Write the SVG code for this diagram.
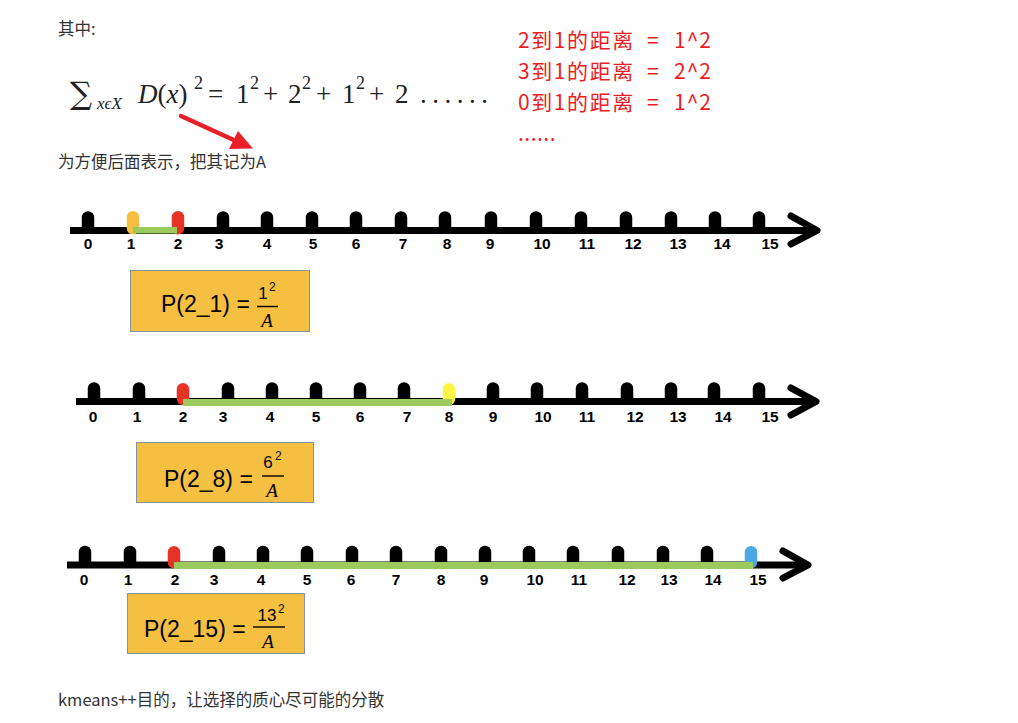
<svg xmlns="http://www.w3.org/2000/svg" width="1018" height="723" viewBox="0 0 1018 723">
<style>
.body{font-family:"Noto Sans CJK SC","Liberation Sans",sans-serif;font-size:16.5px;fill:#333}
.red{font-family:"Noto Sans CJK SC","Liberation Sans",sans-serif;font-size:21px;fill:#ED1C24}
.math{font-family:"Liberation Serif","DejaVu Serif",serif;font-size:27px;fill:#222}
.it{font-style:italic}
.axis{stroke:#000;stroke-width:7;fill:none}
.chev{stroke:#000;stroke-width:7;fill:none;stroke-linecap:round;stroke-linejoin:round}
.num{font-family:"Liberation Sans",sans-serif;font-weight:bold;font-size:15.5px;fill:#000;text-anchor:middle}
.green{fill:#9BCB5E}
.box{fill:#F5BF41;stroke:#8491A3;stroke-width:1}
.pt{font-family:"Liberation Sans",sans-serif;font-size:23px;fill:#000}
.fr{font-family:"Liberation Sans",sans-serif;font-size:17px;fill:#000;text-anchor:middle}
.sup{font-family:"Liberation Sans",sans-serif;font-size:12px;fill:#000}
.A{font-family:"Liberation Serif",serif;font-style:italic;font-size:19px;fill:#000;text-anchor:middle}
.fl{stroke:#000;stroke-width:1.4}
</style>
<defs>
<path id="bump" d="M-6.25,1 V-13 A6.25,6.25 0 0 1 6.25,-13 V1 Z" fill="#000"/>
</defs>

<g id="text-top">
<text class="body" x="58" y="35">其中:</text>
<text class="math" y="103"><tspan x="70" y="104" font-family="DejaVu Serif" font-size="31">∑</tspan><tspan x="97" y="109" font-size="17" class="it">xϵX</tspan><tspan x="138" y="103" class="it">D</tspan><tspan>(</tspan><tspan class="it">x</tspan><tspan>)</tspan><tspan x="194" y="89" font-size="18">2</tspan><tspan x="208" y="103">=</tspan><tspan x="236">1</tspan><tspan x="250" y="89" font-size="18">2</tspan><tspan x="263" y="103">+</tspan><tspan x="288">2</tspan><tspan x="302" y="89" font-size="18">2</tspan><tspan x="316" y="103">+</tspan><tspan x="342">1</tspan><tspan x="356" y="89" font-size="18">2</tspan><tspan x="369" y="103">+</tspan><tspan x="395">2</tspan><tspan x="420" letter-spacing="5.5">......</tspan></text>
<text class="body" x="58" y="168">为方便后面表示，把其记为A</text>
</g>

<g id="red-notes">
<text class="red" y="48"><tspan x="518" letter-spacing="1.6">2到1的距离</tspan><tspan x="647">=</tspan><tspan x="674" letter-spacing="1">1^2</tspan></text>
<text class="red" y="79"><tspan x="518" letter-spacing="1.6">3到1的距离</tspan><tspan x="647">=</tspan><tspan x="674" letter-spacing="1">2^2</tspan></text>
<text class="red" y="110"><tspan x="518" letter-spacing="1.6">0到1的距离</tspan><tspan x="647">=</tspan><tspan x="674" letter-spacing="1">1^2</tspan></text>
<text class="red" x="518" y="141" font-size="18" letter-spacing="0.5">......</text>
</g>

<g id="connectors">
<line x1="181" y1="116" x2="236" y2="141" stroke="#E8202A" stroke-width="4.5" stroke-linecap="round"/>
<polygon points="253,148.5 229,149 238,131" fill="#E8202A"/>
</g>

<g id="numberline-1">
<line class="axis" x1="70" y1="230.5" x2="815" y2="230.5"/>
<polyline class="chev" points="791,216 817,230.5 791,244"/>
<use href="#bump" x="88" y="230.5"/><use href="#bump" x="223" y="230.5"/><use href="#bump" x="267" y="230.5"/><use href="#bump" x="312" y="230.5"/><use href="#bump" x="356" y="230.5"/><use href="#bump" x="401" y="230.5"/><use href="#bump" x="445" y="230.5"/><use href="#bump" x="491" y="230.5"/><use href="#bump" x="536" y="230.5"/><use href="#bump" x="581" y="230.5"/><use href="#bump" x="626" y="230.5"/><use href="#bump" x="671" y="230.5"/><use href="#bump" x="715" y="230.5"/><use href="#bump" x="759" y="230.5"/>
<rect x="126.75" y="211" width="12.5" height="23.5" rx="6.25" fill="#F6BE41"/>
<rect x="171.75" y="211" width="12.5" height="23.5" rx="6.25" fill="#E53325"/>
<rect class="green" x="133" y="227" width="44" height="6.5"/>
<g class="num">
<text x="88" y="249">0</text><text x="131" y="249">1</text><text x="178" y="249">2</text><text x="219" y="249">3</text><text x="267" y="249">4</text><text x="313" y="249">5</text><text x="356" y="249">6</text><text x="403" y="249">7</text><text x="447" y="249">8</text><text x="490" y="249">9</text><text x="542" y="249">10</text><text x="587" y="249">11</text><text x="633" y="249">12</text><text x="678" y="249">13</text><text x="722" y="249">14</text><text x="770" y="249">15</text>
</g>
</g>

<g id="box-1">
<rect class="box" x="130.5" y="270.5" width="179" height="61"/>
<text class="pt" x="161" y="312">P(2_1) =</text>
<text class="fr" x="263" y="299">1</text><text class="sup" x="269" y="291">2</text>
<line class="fl" x1="257" y1="306.5" x2="278" y2="306.5"/>
<text class="A" x="267" y="327">A</text>
</g>

<g id="numberline-2">
<line class="axis" x1="76" y1="401.5" x2="813" y2="401.5"/>
<polyline class="chev" points="791,388 816,401.5 791,415"/>
<use href="#bump" x="94" y="401.5"/><use href="#bump" x="139" y="401.5"/><use href="#bump" x="228" y="401.5"/><use href="#bump" x="272" y="401.5"/><use href="#bump" x="316" y="401.5"/><use href="#bump" x="360" y="401.5"/><use href="#bump" x="404" y="401.5"/><use href="#bump" x="493" y="401.5"/><use href="#bump" x="537" y="401.5"/><use href="#bump" x="582" y="401.5"/><use href="#bump" x="627" y="401.5"/><use href="#bump" x="671" y="401.5"/><use href="#bump" x="714" y="401.5"/><use href="#bump" x="759" y="401.5"/>
<rect x="176.75" y="383" width="12.5" height="22" rx="6.25" fill="#E53325"/>
<rect x="442.75" y="383" width="12.5" height="22" rx="6.25" fill="#FFF544"/>
<rect class="green" x="183" y="399" width="269" height="7"/>
<g class="num">
<text x="93" y="422">0</text><text x="137" y="422">1</text><text x="183" y="422">2</text><text x="223" y="422">3</text><text x="270" y="422">4</text><text x="316" y="422">5</text><text x="360" y="422">6</text><text x="407" y="422">7</text><text x="449" y="422">8</text><text x="493" y="422">9</text><text x="543" y="422">10</text><text x="587" y="422">11</text><text x="635" y="422">12</text><text x="678" y="422">13</text><text x="723" y="422">14</text><text x="770" y="422">15</text>
</g>
</g>

<g id="box-2">
<rect class="box" x="136.5" y="442.5" width="177" height="60"/>
<text class="pt" x="164" y="487">P(2_8) =</text>
<text class="fr" x="268" y="468">6</text><text class="sup" x="275" y="460">2</text>
<line class="fl" x1="262" y1="476" x2="284" y2="476"/>
<text class="A" x="272" y="497">A</text>
</g>

<g id="numberline-3">
<line class="axis" x1="67" y1="565" x2="805" y2="565"/>
<polyline class="chev" points="783,551 808,565 783,578"/>
<use href="#bump" x="85" y="565"/><use href="#bump" x="130" y="565"/><use href="#bump" x="219" y="565"/><use href="#bump" x="263" y="565"/><use href="#bump" x="307" y="565"/><use href="#bump" x="352" y="565"/><use href="#bump" x="396" y="565"/><use href="#bump" x="441" y="565"/><use href="#bump" x="485" y="565"/><use href="#bump" x="529" y="565"/><use href="#bump" x="573" y="565"/><use href="#bump" x="618" y="565"/><use href="#bump" x="663" y="565"/><use href="#bump" x="707" y="565"/>
<rect x="167.75" y="546" width="12.5" height="22.5" rx="6.25" fill="#E53325"/>
<rect x="744.75" y="546" width="12.5" height="22.5" rx="6.25" fill="#4AA9E3"/>
<rect class="green" x="174" y="562" width="579" height="7"/>
<g class="num">
<text x="84" y="585">0</text><text x="128" y="585">1</text><text x="175" y="585">2</text><text x="214" y="585">3</text><text x="261" y="585">4</text><text x="307" y="585">5</text><text x="351" y="585">6</text><text x="396" y="585">7</text><text x="441" y="585">8</text><text x="484" y="585">9</text><text x="535" y="585">10</text><text x="579" y="585">11</text><text x="627" y="585">12</text><text x="669" y="585">13</text><text x="713" y="585">14</text><text x="758" y="585">15</text>
</g>
</g>

<g id="box-3">
<rect class="box" x="127.5" y="593.5" width="177" height="60"/>
<text class="pt" x="144" y="637">P(2_15) =</text>
<text class="fr" x="267" y="621">13</text><text class="sup" x="278" y="613">2</text>
<line class="fl" x1="253" y1="627" x2="285" y2="627"/>
<text class="A" x="268" y="648">A</text>
</g>

<g id="text-bottom">
<text class="body" x="58" y="706">kmeans++目的，让选择的质心尽可能的分散</text>
</g>
</svg>
